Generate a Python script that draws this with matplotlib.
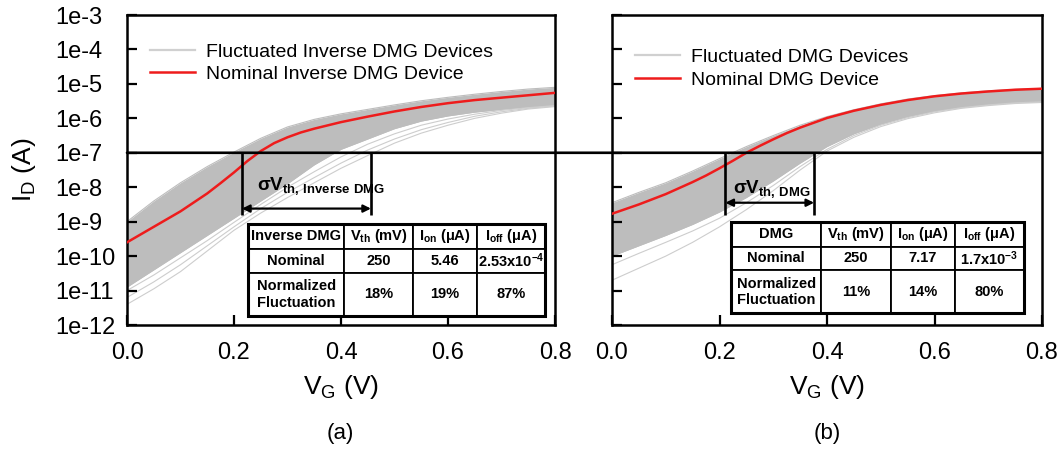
import matplotlib
matplotlib.use("Agg")
import numpy as np
import matplotlib.pyplot as plt
from matplotlib.patches import ConnectionPatch, Rectangle

plt.rcParams['font.family'] = ['Liberation Sans', 'DejaVu Sans']
plt.rcParams['mathtext.fontset'] = 'custom'
plt.rcParams['mathtext.rm'] = 'Liberation Sans'
plt.rcParams['mathtext.bf'] = 'Liberation Sans:bold'
plt.rcParams['mathtext.default'] = 'regular'

# gate voltage grid (V) for the fluctuated device bundle
vg = [0.00, 0.05, 0.10, 0.15, 0.20, 0.25, 0.30, 0.35, 0.40,
      0.45, 0.50, 0.55, 0.60, 0.65, 0.70, 0.75, 0.80]
# finer grid around the knee for the nominal curves
nom_vg = [0.00, 0.05, 0.10, 0.15, 0.175, 0.20, 0.225, 0.25, 0.275, 0.30, 0.325,
          0.35, 0.40, 0.45, 0.50, 0.55, 0.60, 0.65, 0.70, 0.75, 0.80]

# log10(I_D / A), inverse DMG device
inv_nominal = [-9.60, -9.15, -8.70, -8.18, -7.88, -7.57, -7.24, -6.95, -6.72, -6.55, -6.41,
               -6.30, -6.11, -5.95, -5.80, -5.67, -5.56, -5.47, -5.40, -5.33, -5.26]
inv_upper = [-9.00, -8.40, -7.87, -7.40, -6.98, -6.58, -6.25, -6.03, -5.87,
             -5.74, -5.61, -5.49, -5.39, -5.30, -5.22, -5.15, -5.10]
inv_lower = [-10.90, -10.40, -9.90, -9.40, -8.90, -8.40, -7.90, -7.35, -6.90,
             -6.60, -6.30, -6.08, -5.93, -5.82, -5.74, -5.67, -5.62]
inv_spread = [
    [-11.00, -10.55, -10.05, -9.55, -9.02, -8.50, -8.00, -7.55, -7.12,
     -6.75, -6.45, -6.20, -6.02, -5.88, -5.77, -5.69, -5.63],
    [-11.20, -10.75, -10.25, -9.70, -9.15, -8.62, -8.15, -7.72, -7.30,
     -6.92, -6.60, -6.33, -6.12, -5.94, -5.81, -5.71, -5.64],
    [-11.40, -10.95, -10.45, -9.85, -9.25, -8.75, -8.30, -7.87, -7.45,
     -7.08, -6.72, -6.43, -6.20, -6.00, -5.85, -5.73, -5.66],
]

# log10(I_D / A), DMG device
dmg_nominal = [-8.77, -8.50, -8.20, -7.85, -7.66, -7.45, -7.23, -7.00, -6.80, -6.61, -6.43,
               -6.27, -5.99, -5.78, -5.61, -5.47, -5.36, -5.28, -5.22, -5.17, -5.14]
dmg_upper = [-8.45, -8.15, -7.87, -7.53, -7.17, -6.82, -6.50, -6.20, -5.95,
             -5.75, -5.58, -5.44, -5.34, -5.26, -5.20, -5.16, -5.13]
dmg_lower = [-10.00, -9.70, -9.40, -9.08, -8.72, -8.30, -7.82, -7.30, -6.82,
             -6.45, -6.17, -5.95, -5.79, -5.67, -5.59, -5.54, -5.51]
dmg_spread = [
    [-10.25, -9.92, -9.60, -9.27, -8.90, -8.45, -7.95, -7.40, -6.90,
     -6.50, -6.20, -5.98, -5.81, -5.69, -5.61, -5.55, -5.52],
    [-10.70, -10.35, -10.00, -9.60, -9.15, -8.65, -8.10, -7.50, -6.95,
     -6.55, -6.24, -6.01, -5.84, -5.71, -5.63, -5.57, -5.54],
]

# threshold current and Vth spread markers
i_ref = 1e-7
inv_vth_span = [0.215, 0.456]
dmg_vth_span = [0.211, 0.376]

xticks = [0.0, 0.2, 0.4, 0.6, 0.8]
xtick_labels = ["0.0", "0.2", "0.4", "0.6", "0.8"]
yticks = [1e-3, 1e-4, 1e-5, 1e-6, 1e-7, 1e-8, 1e-9, 1e-10, 1e-11, 1e-12]
ytick_labels = ["1e-3", "1e-4", "1e-5", "1e-6", "1e-7", "1e-8", "1e-9",
                "1e-10", "1e-11", "1e-12"]

hdr_vth = r"V$_{\mathbf{th}}$ (mV)"
hdr_ion = r"I$_{\mathbf{on}}$ (μA)"
hdr_ioff = r"I$_{\mathbf{off}}$ (μA)"
inv_table = [["Inverse DMG", hdr_vth, hdr_ion, hdr_ioff],
             ["Nominal", "250", "5.46", r"2.53x10$^{\mathbf{-4}}$"],
             ["Normalized\nFluctuation", "18%", "19%", "87%"]]
dmg_table = [["DMG", hdr_vth, hdr_ion, hdr_ioff],
             ["Nominal", "250", "7.17", r"1.7x10$^{\mathbf{-3}}$"],
             ["Normalized\nFluctuation", "11%", "14%", "80%"]]

fig = plt.figure(figsize=(10.62, 4.5), dpi=100)
ax_a = fig.add_axes([127 / 1062, 125 / 450, 428 / 1062, 310 / 450])
ax_b = fig.add_axes([612 / 1062, 125 / 450, 430 / 1062, 310 / 450])

GREY = "#bdbdbd"
FAINT = "#cdcdcd"


def to_amp(v):
    return np.power(10.0, np.array(v))


def draw_panel(ax, nominal, upper, lower, spread, labels, legend_y):
    ax.fill_between(vg, to_amp(lower), to_amp(upper), color=GREY, lw=0, zorder=1)
    for curve in [upper, lower]:
        ax.plot(vg, to_amp(curve), color=GREY, lw=0.8, zorder=1)
    for curve in spread:
        ax.plot(vg, to_amp(curve), color=FAINT, lw=0.8, zorder=1)
    # legend handle for the fluctuated set
    ax.plot([], [], color="#d0d0d0", lw=1.6, label=labels[0])
    ax.plot(nom_vg, to_amp(nominal), color="#ee1c1c", lw=1.8, zorder=3, label=labels[1])

    ax.set_yscale("log")
    ax.set_xlim(0, 0.8)
    ax.set_ylim(1e-12, 1e-3)
    ax.set_xticks(xticks)
    ax.set_xticklabels(xtick_labels)
    ax.set_yticks(yticks)
    ax.minorticks_off()
    ax.tick_params(direction="in", length=7, width=1.6, labelsize=17)
    ax.tick_params(axis="x", pad=12)
    for s in ax.spines.values():
        s.set_linewidth(1.8)
    ax.set_xlabel(r"V$_{\mathrm{G}}$ (V)", fontsize=19)
    ax.xaxis.set_label_coords(0.5, -0.155)

    ax.legend(loc="upper left", bbox_to_anchor=(0.054, legend_y), frameon=False,
              fontsize=14, handlelength=2.3, handletextpad=0.55,
              labelspacing=0.25, borderpad=0, borderaxespad=0)


def draw_table(ax, rows, bbox, col_w):
    tbl = ax.table(cellText=rows, cellLoc="center", colWidths=col_w, bbox=bbox)
    tbl.auto_set_font_size(False)
    tbl.set_fontsize(10.5)
    row_h = [25, 24, 43]
    for (r, c), cell in tbl.get_celld().items():
        cell.set_height(row_h[r])
        cell.set_linewidth(1.3)
        cell.set_facecolor("white")
        cell.get_text().set_fontweight("bold")
    tbl.set_zorder(5)
    ax.add_patch(Rectangle((bbox[0], bbox[1]), bbox[2], bbox[3], transform=ax.transAxes,
                           fill=False, lw=2.2, ec="black", zorder=6))


def draw_sigma(ax, span, y_arrow, y_text, x_text, label):
    ax.vlines(span, 10 ** -8.82, i_ref, color="black", lw=1.9, zorder=4)
    ax.annotate("", xy=(span[1], y_arrow), xytext=(span[0], y_arrow),
                arrowprops=dict(arrowstyle="<|-|>", color="black", lw=1.6,
                                mutation_scale=11, shrinkA=0, shrinkB=0), zorder=4)
    ax.text(x_text, y_text, label, fontsize=13.5, fontweight="bold", va="baseline", zorder=4)


draw_panel(ax_a, inv_nominal, inv_upper, inv_lower, inv_spread,
           ["Fluctuated Inverse DMG Devices", "Nominal Inverse DMG Device"], 0.91)
draw_panel(ax_b, dmg_nominal, dmg_upper, dmg_lower, dmg_spread,
           ["Fluctuated DMG Devices", "Nominal DMG Device"], 0.892)

ax_a.set_yticklabels(ytick_labels)
ax_a.tick_params(axis="y", pad=52)
for lbl in ax_a.get_yticklabels():
    lbl.set_horizontalalignment("left")
ax_b.set_yticklabels([])

draw_sigma(ax_a, inv_vth_span, 10 ** -8.62, 10 ** -8.09, 0.2425,
           r"σV$_{\mathbf{th{,}\ Inverse\ DMG}}$")
draw_sigma(ax_b, dmg_vth_span, 10 ** -8.45, 10 ** -8.17, 0.225,
           r"σV$_{\mathbf{th{,}\ DMG}}$")

draw_table(ax_a, inv_table, [0.283, 0.029, 0.694, 0.297], [96, 69, 64, 68])
draw_table(ax_b, dmg_table, [0.277, 0.039, 0.681, 0.294], [90, 70, 64, 69])

# reference current line running across both panels
ref_line = ConnectionPatch(xyA=(0.0, i_ref), coordsA=ax_a.transData,
                           xyB=(0.8, i_ref), coordsB=ax_b.transData,
                           color="black", lw=1.9, zorder=4)
fig.add_artist(ref_line)

fig.text(24 / 1062, 1 - 170 / 450, r"I$_{\mathrm{D}}$ (A)", rotation=90,
         fontsize=19, ha="center", va="center")
fig.text(340 / 1062, 1 - 433 / 450, "(a)", fontsize=16, ha="center", va="center")
fig.text(827 / 1062, 1 - 433 / 450, "(b)", fontsize=16, ha="center", va="center")

fig.savefig("out.png", dpi=100)
